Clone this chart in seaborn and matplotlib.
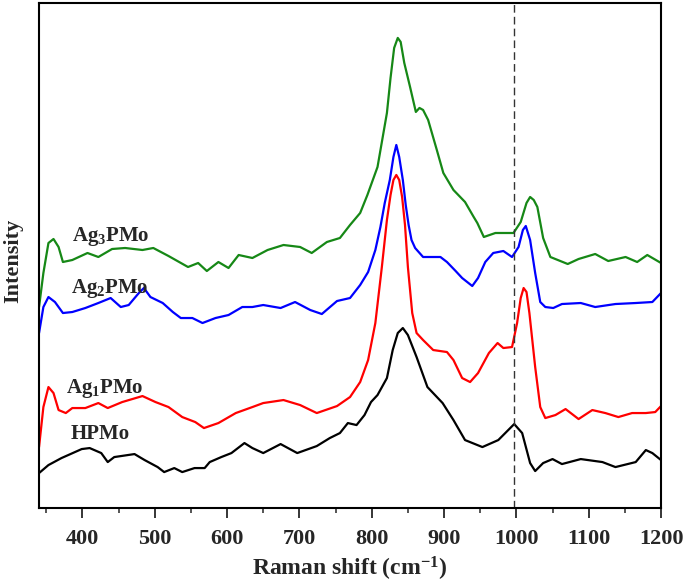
import numpy as np
import pandas as pd
import matplotlib
matplotlib.use('Agg')
import matplotlib.pyplot as plt
import seaborn as sns

# %%
# 스펙트럼 값 (그림에서 읽은 값, 세로 오프셋 포함)
hpmo_x = [340, 353, 371, 399, 410, 426, 435, 444, 472, 486, 504, 513, 527, 538, 555,
          569, 576, 592, 606, 624, 635, 650, 674, 697, 724, 742, 756, 767, 779, 790,
          799, 808, 821, 829, 836, 843, 850, 862, 877, 898, 913, 929, 953, 975, 997,
          1008, 1019, 1026, 1037, 1050, 1063, 1089, 1119, 1137, 1165, 1179, 1188, 1200]
hpmo_y = [35, 43, 50, 59, 60, 55, 46, 51, 54, 48, 41, 36, 40, 36, 40,
          40, 46, 51, 55, 65, 60, 55, 64, 55, 62, 70, 75, 85, 83, 93,
          106, 113, 130, 158, 175, 180, 173, 151, 121, 105, 88, 68, 61, 68, 84,
          75, 45, 37, 45, 49, 44, 49, 46, 41, 46, 58, 55, 48]

ag1_x = [340, 346, 353, 360, 367, 377, 386, 404, 422, 435, 455, 483, 501, 519, 538,
         556, 568, 588, 612, 635, 650, 678, 701, 724, 752, 770, 784, 795, 805, 814,
         821, 826, 830, 834, 838, 842, 846, 850, 856, 862, 871, 885, 904, 913, 925,
         936, 947, 962, 974, 982, 994, 1001, 1006, 1010, 1014, 1018, 1026, 1033, 1040, 1054,
         1068, 1086, 1105, 1123, 1141, 1160, 1179, 1192, 1200]
ag1_y = [61, 101, 121, 115, 98, 95, 100, 100, 105, 100, 106, 112, 106, 101, 91,
         86, 80, 85, 95, 101, 105, 108, 103, 95, 102, 111, 126, 148, 185, 241,
         288, 313, 328, 333, 328, 311, 283, 241, 195, 175, 168, 158, 156, 148, 130,
         126, 135, 155, 165, 160, 161, 185, 210, 220, 216, 195, 141, 101, 90, 93,
         99, 89, 98, 95, 91, 95, 95, 96, 102]

ag2_x = [340, 346, 353, 362, 373, 386, 404, 422, 439, 453, 464, 478, 485, 494, 511,
         525, 536, 552, 566, 584, 602, 621, 635, 650, 674, 694, 715, 731, 752, 770,
         784, 795, 805, 812, 818, 825, 830, 834, 838, 843, 847, 851, 855, 860, 871,
         895, 904, 916, 925, 939, 947, 957, 968, 982, 994, 1003, 1009, 1013, 1019, 1026,
         1033, 1040, 1051, 1063, 1089, 1109, 1137, 1165, 1188, 1200]
ag2_y = [175, 201, 211, 206, 195, 196, 200, 205, 210, 201, 203, 215, 220, 211, 205,
         196, 190, 190, 185, 190, 193, 201, 201, 203, 200, 206, 198, 194, 207, 210,
         223, 236, 258, 281, 305, 328, 351, 363, 351, 328, 303, 283, 268, 260, 251,
         251, 246, 237, 230, 222, 230, 246, 255, 257, 251, 261, 278, 282, 268, 235,
         206, 201, 200, 204, 205, 201, 204, 205, 206, 215]

ag3_x = [340, 346, 353, 360, 367, 373, 386, 407, 422, 441, 459, 483, 498, 519, 546,
         560, 572, 588, 602, 616, 635, 656, 678, 701, 717, 738, 756, 770, 784, 794,
         808, 821, 826, 831, 836, 840, 845, 853, 861, 866, 871, 878, 890, 899, 913,
         929, 941, 946, 955, 971, 996, 1006, 1014, 1019, 1024, 1029, 1037, 1047, 1071, 1086,
         1109, 1127, 1151, 1167, 1181, 1200]
ag3_y = [201, 235, 265, 269, 261, 246, 248, 255, 251, 259, 260, 258, 260, 252, 241,
         245, 237, 246, 240, 253, 250, 258, 263, 261, 255, 266, 270, 283, 295, 313,
         341, 395, 430, 460, 470, 466, 445, 421, 396, 400, 398, 388, 358, 335, 318,
         306, 291, 285, 271, 275, 275, 286, 305, 311, 308, 301, 270, 251, 244, 249,
         254, 247, 251, 246, 253, 245]

sample_names = ['HPMo', 'Ag$_1$PMo', 'Ag$_2$PMo', 'Ag$_3$PMo']
label_pos = [(384, 69), (377, 115), (384, 215), (385, 267)]
line_colors = ['black', '#ff0000', '#0000ff', '#168816']
xticks = [400, 500, 600, 700, 800, 900, 1000, 1100, 1200]
ref_line = 997

series = [(hpmo_x, hpmo_y), (ag1_x, ag1_y), (ag2_x, ag2_y), (ag3_x, ag3_y)]

# %%
sns.set_style('ticks')
plt.rcParams['font.family'] = ['Liberation Serif', 'DejaVu Serif']
plt.rcParams['font.weight'] = 'bold'
plt.rcParams['mathtext.fontset'] = 'custom'
plt.rcParams['mathtext.rm'] = 'Liberation Serif:bold'
plt.rcParams['mathtext.it'] = 'Liberation Serif:bold'
plt.rcParams['mathtext.bf'] = 'Liberation Serif:bold'

fig = plt.figure(figsize=(6.85, 5.84), dpi=100)
ax = fig.add_axes([0.057, 0.130, 0.908, 0.865])

for (xs, ys), col in zip(series, line_colors):
    df = pd.DataFrame({'x': xs, 'y': ys})
    sns.lineplot(data=df, x='x', y='y', color=col, lw=1.6, ax=ax,
                 estimator=None, sort=False)

ax.axvline(ref_line, color='#333333', lw=1.0, ls=(0, (5.5, 3)))

for name, (tx, ty) in zip(sample_names, label_pos):
    ax.text(tx, ty, name, fontsize=15, fontweight='bold', va='baseline', ha='left')

ax.set_xlim(340, 1200)
ax.set_ylim(0, 505)
ax.set_xticks(xticks)
ax.set_xticks(np.arange(350, 1201, 50), minor=True)
ax.set_yticks([])
ax.tick_params(axis='x', which='major', direction='out', length=7, width=1.3,
               labelsize=16, pad=8)
ax.tick_params(axis='x', which='minor', direction='out', length=3.5, width=1.1)
for lab in ax.get_xticklabels():
    lab.set_fontweight('bold')
for sp in ax.spines.values():
    sp.set_linewidth(1.5)
    sp.set_color('black')

ax.set_xlabel('Raman shift (cm$^{-1}$)', fontsize=17, fontweight='bold')
ax.set_ylabel('Intensity', fontsize=16, fontweight='bold')
ax.xaxis.set_label_coords(0.5, -0.092)
ax.yaxis.set_label_coords(-0.025, 0.49)

fig.savefig('out.png', dpi=100)
